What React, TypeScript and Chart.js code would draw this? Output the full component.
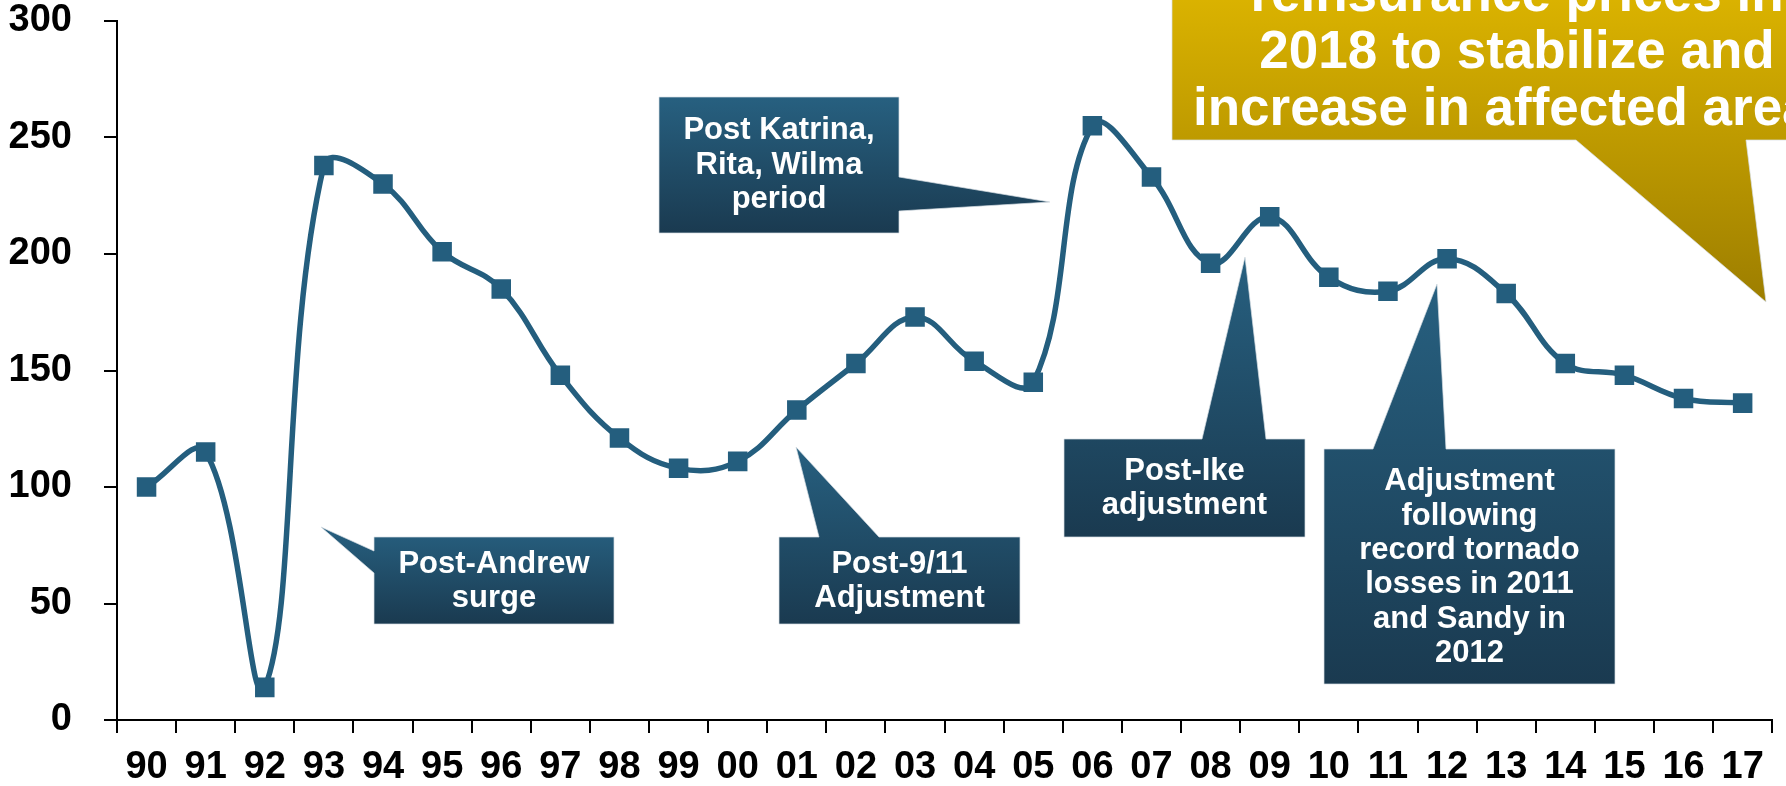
import React, { useEffect, useRef } from 'react';
import { Chart, registerables } from 'chart.js';

Chart.register(...registerables);

// Catastrophe rate-on-line index, 1990 = 100
const years = ['90', '91', '92', '93', '94', '95', '96', '97', '98', '99', '00', '01', '02', '03', '04', '05', '06', '07', '08', '09', '10', '11', '12', '13', '14', '15', '16', '17'];
const rateOnLine = [100, 115, 14, 238, 230, 201, 185, 148, 121, 108, 111, 133, 153, 173, 154, 145, 255, 233, 196, 216, 190, 184, 198, 183, 153, 148, 138, 136];
const yMin = 0;
const yMax = 300;
const yStep = 50;

const FONT = '"Liberation Sans", Arial, Helvetica, sans-serif';
const LINE_BLUE = '#245e7e';

type Side = 'left' | 'right' | 'top' | 'bottom';
interface Callout {
  lines: string[];
  box: [number, number, number, number]; // left, top, right, bottom
  side: Side;
  base: [number, number];
  tip: [number, number];
  baselines: number[];
  fontSize: number;
  colors: [string, string];
  gradientSpan?: [number, number];
}

const BLUE: [string, string] = ['#276080', '#1a3a50'];
const GOLD: [string, string] = ['#e2b900', '#9d7e00'];

const callouts: Callout[] = [
  {
    lines: ['Post-Andrew', 'surge'],
    box: [374, 537, 614, 624], side: 'left', base: [551, 573], tip: [321, 527],
    baselines: [573, 607], fontSize: 31, colors: BLUE,
  },
  {
    lines: ['Post Katrina,', 'Rita, Wilma', 'period'],
    box: [659, 97, 899, 233], side: 'right', base: [177, 211], tip: [1050, 202],
    baselines: [139, 174, 208], fontSize: 31, colors: BLUE,
  },
  {
    lines: ['Post-9/11', 'Adjustment'],
    box: [779, 537, 1020, 624], side: 'top', base: [819, 879], tip: [796, 447],
    baselines: [573, 607], fontSize: 31, colors: BLUE,
  },
  {
    lines: ['Post-Ike', 'adjustment'],
    box: [1064, 439, 1305, 537], side: 'top', base: [1202, 1266], tip: [1245, 257],
    baselines: [480, 514], fontSize: 31, colors: BLUE,
  },
  {
    lines: ['Adjustment', 'following', 'record tornado', 'losses in 2011', 'and Sandy in', '2012'],
    box: [1324, 449, 1615, 684], side: 'top', base: [1373, 1446], tip: [1437, 284],
    baselines: [490, 525, 559, 593, 628, 662], fontSize: 31, colors: BLUE,
  },
  {
    lines: ['reinsurance prices in', '2018 to stabilize and', 'increase in affected areas'],
    box: [1172, -120, 1862, 140], side: 'bottom', base: [1576, 1746], tip: [1766, 302],
    baselines: [11, 68, 125], fontSize: 53, colors: GOLD, gradientSpan: [-40, 302],
  },
];

function calloutPath(ctx: CanvasRenderingContext2D, c: Callout) {
  const [L, T, R, B] = c.box;
  const [a, b] = c.base;
  const [tx, ty] = c.tip;
  ctx.beginPath();
  ctx.moveTo(L, T);
  if (c.side === 'top') { ctx.lineTo(a, T); ctx.lineTo(tx, ty); ctx.lineTo(b, T); }
  ctx.lineTo(R, T);
  if (c.side === 'right') { ctx.lineTo(R, a); ctx.lineTo(tx, ty); ctx.lineTo(R, b); }
  ctx.lineTo(R, B);
  if (c.side === 'bottom') { ctx.lineTo(b, B); ctx.lineTo(tx, ty); ctx.lineTo(a, B); }
  ctx.lineTo(L, B);
  if (c.side === 'left') { ctx.lineTo(L, b); ctx.lineTo(tx, ty); ctx.lineTo(L, a); }
  ctx.closePath();
}

const calloutPlugin = {
  id: 'callouts',
  afterDatasetsDraw(chart: Chart) {
    const ctx = chart.ctx;
    ctx.save();
    for (const c of callouts) {
      const top = c.gradientSpan ? c.gradientSpan[0] : Math.min(c.box[1], c.tip[1]);
      const bottom = c.gradientSpan ? c.gradientSpan[1] : Math.max(c.box[3], c.tip[1]);
      const grad = ctx.createLinearGradient(0, top, 0, bottom);
      grad.addColorStop(0, c.colors[0]);
      grad.addColorStop(1, c.colors[1]);
      calloutPath(ctx, c);
      ctx.fillStyle = grad;
      ctx.fill();
      ctx.lineWidth = 1;
      ctx.strokeStyle = 'rgba(215,222,228,0.7)';
      ctx.stroke();

      const cx = (c.box[0] + c.box[2]) / 2;
      ctx.fillStyle = '#ffffff';
      ctx.font = `bold ${c.fontSize}px ${FONT}`;
      ctx.textAlign = 'center';
      ctx.textBaseline = 'alphabetic';
      c.lines.forEach((line, i) => ctx.fillText(line, cx, c.baselines[i]));
    }
    ctx.restore();
  },
};

export default function App() {
  const canvasRef = useRef<HTMLCanvasElement | null>(null);

  useEffect(() => {
    const canvas = canvasRef.current;
    if (!canvas) return;
    const tickFont = { family: FONT, size: 38, weight: 'bold' as const };
    const chart = new Chart(canvas, {
      type: 'line',
      data: {
        labels: years,
        datasets: [
          {
            data: rateOnLine,
            borderColor: LINE_BLUE,
            backgroundColor: LINE_BLUE,
            borderWidth: 5.5,
            tension: 0.4,
            fill: false,
            pointStyle: 'rect',
            pointRadius: 13.8,
            pointBorderWidth: 0,
            pointBackgroundColor: LINE_BLUE,
            pointHoverRadius: 13.8,
          },
        ],
      },
      options: {
        responsive: false,
        animation: false,
        devicePixelRatio: 1,
        events: [],
        layout: { padding: { top: 21, right: 13, left: 0, bottom: 0 } },
        plugins: {
          legend: { display: false },
          tooltip: { enabled: false },
          title: { display: false },
        },
        scales: {
          x: {
            type: 'category',
            offset: true,
            grid: {
              offset: true,
              drawOnChartArea: false,
              drawTicks: true,
              tickLength: 13,
              color: '#000',
              lineWidth: 2,
            },
            border: { display: true, color: '#000', width: 2 },
            ticks: {
              font: tickFont,
              color: '#000',
              padding: 12,
              maxRotation: 0,
              autoSkip: false,
            },
            afterFit: (scale: any) => {
              scale.height = 66;
              scale.paddingLeft = 0;
              scale.paddingRight = 0;
            },
          },
          y: {
            min: yMin,
            max: yMax,
            grid: {
              drawOnChartArea: false,
              drawTicks: true,
              tickLength: 13,
              color: '#000',
              lineWidth: 2,
            },
            border: { display: true, color: '#000', width: 2 },
            ticks: {
              stepSize: yStep,
              font: tickFont,
              color: '#000',
              padding: 32,
            },
            afterFit: (scale: any) => {
              scale.width = 117;
              scale.paddingTop = 0;
              scale.paddingBottom = 0;
            },
          },
        },
      },
      plugins: [calloutPlugin],
    });
    return () => chart.destroy();
  }, []);

  return (
    <div style={{ position: 'fixed', left: 0, top: 0, width: 1786, height: 786, background: '#ffffff' }}>
      <canvas ref={canvasRef} width={1786} height={786} style={{ display: 'block' }} />
    </div>
  );
}
